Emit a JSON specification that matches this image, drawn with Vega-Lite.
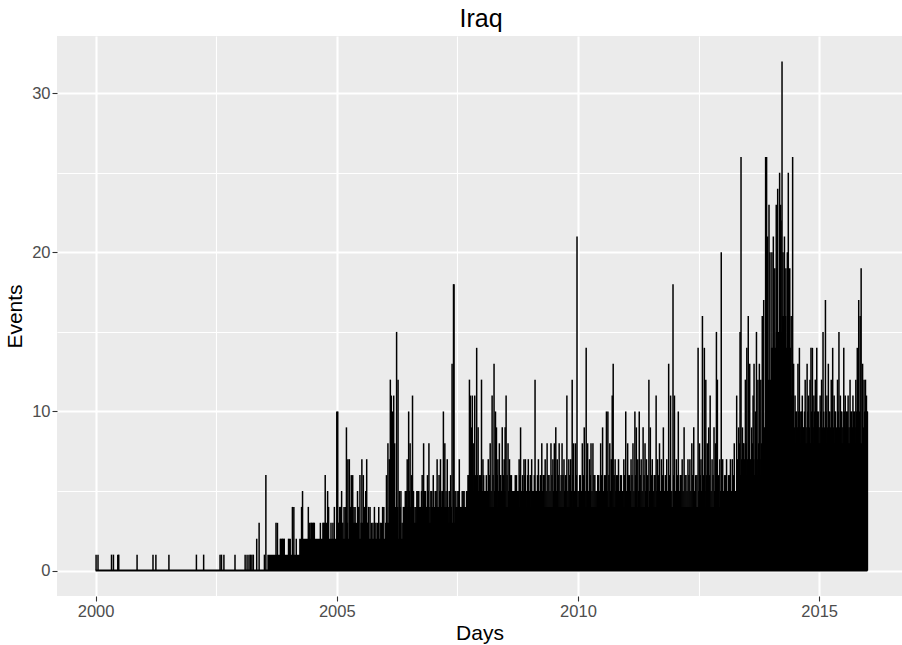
{
  "$schema": "https://vega.github.io/schema/vega-lite/v6.json",
  "width": 845,
  "height": 560,
  "autosize": {"type": "none"},
  "padding": {"left": 57, "top": 36, "right": 0, "bottom": 49},
  "background": "white",
  "view": {"fill": "#EBEBEB", "stroke": null},
  "title": {"text": "Iraq", "font": "Liberation Sans", "fontSize": 25, "fontWeight": "normal", "color": "black", "anchor": "middle", "offset": 4, "dx": 1.5},
  "datasets": {
    "base": [{"t": 2000, "t2": 2016, "v": 0}],
    "mass": [
      {"t": 2003.56, "v": 1}, {"t": 2003.83, "v": 2}, {"t": 2003.92, "v": 1}, {"t": 2004.0, "v": 2},
      {"t": 2004.05, "v": 1}, {"t": 2004.22, "v": 2}, {"t": 2004.45, "v": 3}, {"t": 2004.55, "v": 2},
      {"t": 2004.7, "v": 3}, {"t": 2004.8, "v": 2}, {"t": 2005.0, "v": 3}, {"t": 2005.12, "v": 2},
      {"t": 2005.25, "v": 3}, {"t": 2005.4, "v": 2}, {"t": 2005.5, "v": 3}, {"t": 2005.65, "v": 2},
      {"t": 2006.0, "v": 3}, {"t": 2006.08, "v": 4}, {"t": 2006.28, "v": 2}, {"t": 2006.45, "v": 3},
      {"t": 2006.65, "v": 4}, {"t": 2006.8, "v": 3}, {"t": 2006.95, "v": 4}, {"t": 2007.3, "v": 3},
      {"t": 2007.45, "v": 4}, {"t": 2007.7, "v": 5}, {"t": 2008.1, "v": 4}, {"t": 2013.29, "v": 6},
      {"t": 2013.84, "v": 9}, {"t": 2013.92, "v": 12}, {"t": 2014.0, "v": 14}, {"t": 2014.1, "v": 15},
      {"t": 2014.22, "v": 16}, {"t": 2014.32, "v": 14}, {"t": 2014.42, "v": 11}, {"t": 2014.47, "v": 8},
      {"t": 2016.0, "v": 8}
    ],
    "spikes": [
      {"t": 2000.01, "v": 1}, {"t": 2000.05, "v": 1}, {"t": 2000.33, "v": 1}, {"t": 2000.37, "v": 1},
      {"t": 2000.46, "v": 1}, {"t": 2000.48, "v": 1}, {"t": 2000.86, "v": 1}, {"t": 2001.19, "v": 1},
      {"t": 2001.25, "v": 1}, {"t": 2001.52, "v": 1}, {"t": 2002.09, "v": 1}, {"t": 2002.24, "v": 1},
      {"t": 2002.58, "v": 1}, {"t": 2002.61, "v": 1}, {"t": 2002.66, "v": 1}, {"t": 2002.89, "v": 1},
      {"t": 2003.1, "v": 1}, {"t": 2003.14, "v": 1}, {"t": 2003.18, "v": 1}, {"t": 2003.21, "v": 1},
      {"t": 2003.24, "v": 1}, {"t": 2003.27, "v": 1}, {"t": 2003.34, "v": 2}, {"t": 2003.39, "v": 3},
      {"t": 2003.5, "v": 1}, {"t": 2003.53, "v": 6}, {"t": 2003.74, "v": 3}, {"t": 2003.77, "v": 3},
      {"t": 2003.83, "v": 2}, {"t": 2003.87, "v": 2}, {"t": 2003.91, "v": 2}, {"t": 2004.0, "v": 2},
      {"t": 2004.08, "v": 4}, {"t": 2004.11, "v": 4}, {"t": 2004.16, "v": 2}, {"t": 2004.27, "v": 4},
      {"t": 2004.29, "v": 5}, {"t": 2004.41, "v": 4}, {"t": 2004.44, "v": 3}, {"t": 2004.48, "v": 3},
      {"t": 2004.52, "v": 3}, {"t": 2004.66, "v": 3}, {"t": 2004.72, "v": 3}, {"t": 2004.76, "v": 6},
      {"t": 2004.81, "v": 5}, {"t": 2004.83, "v": 4}, {"t": 2004.88, "v": 3}, {"t": 2004.92, "v": 3},
      {"t": 2004.95, "v": 4}, {"t": 2005.0, "v": 10}, {"t": 2005.02, "v": 10}, {"t": 2005.06, "v": 4},
      {"t": 2005.1, "v": 5}, {"t": 2005.15, "v": 4}, {"t": 2005.2, "v": 9}, {"t": 2005.23, "v": 7},
      {"t": 2005.26, "v": 7}, {"t": 2005.3, "v": 6}, {"t": 2005.33, "v": 6}, {"t": 2005.38, "v": 4},
      {"t": 2005.43, "v": 5}, {"t": 2005.48, "v": 6}, {"t": 2005.52, "v": 7}, {"t": 2005.55, "v": 6},
      {"t": 2005.6, "v": 5}, {"t": 2005.62, "v": 7}, {"t": 2005.66, "v": 4}, {"t": 2005.72, "v": 3},
      {"t": 2005.78, "v": 4}, {"t": 2005.84, "v": 3}, {"t": 2005.9, "v": 3}, {"t": 2005.95, "v": 4},
      {"t": 2006.03, "v": 6}, {"t": 2006.06, "v": 8}, {"t": 2006.09, "v": 7}, {"t": 2006.11, "v": 12},
      {"t": 2006.13, "v": 11}, {"t": 2006.15, "v": 10}, {"t": 2006.18, "v": 11}, {"t": 2006.2, "v": 8},
      {"t": 2006.24, "v": 15}, {"t": 2006.27, "v": 12}, {"t": 2006.3, "v": 5}, {"t": 2006.33, "v": 5},
      {"t": 2006.38, "v": 4}, {"t": 2006.42, "v": 5}, {"t": 2006.46, "v": 7}, {"t": 2006.49, "v": 10},
      {"t": 2006.52, "v": 8}, {"t": 2006.55, "v": 6}, {"t": 2006.57, "v": 11}, {"t": 2006.62, "v": 4},
      {"t": 2006.66, "v": 5}, {"t": 2006.7, "v": 5}, {"t": 2006.74, "v": 4}, {"t": 2006.77, "v": 6},
      {"t": 2006.8, "v": 8}, {"t": 2006.84, "v": 5}, {"t": 2006.88, "v": 6}, {"t": 2006.91, "v": 8},
      {"t": 2006.95, "v": 5}, {"t": 2007.0, "v": 6}, {"t": 2007.04, "v": 5}, {"t": 2007.08, "v": 7},
      {"t": 2007.12, "v": 6}, {"t": 2007.15, "v": 7}, {"t": 2007.18, "v": 5}, {"t": 2007.21, "v": 10},
      {"t": 2007.24, "v": 8}, {"t": 2007.29, "v": 7}, {"t": 2007.33, "v": 5}, {"t": 2007.36, "v": 6},
      {"t": 2007.39, "v": 13}, {"t": 2007.42, "v": 18}, {"t": 2007.43, "v": 18}, {"t": 2007.47, "v": 5},
      {"t": 2007.51, "v": 5}, {"t": 2007.54, "v": 7}, {"t": 2007.58, "v": 4}, {"t": 2007.62, "v": 5},
      {"t": 2007.66, "v": 4}, {"t": 2007.72, "v": 6}, {"t": 2007.75, "v": 12}, {"t": 2007.77, "v": 11},
      {"t": 2007.79, "v": 9}, {"t": 2007.81, "v": 11}, {"t": 2007.84, "v": 8}, {"t": 2007.86, "v": 11},
      {"t": 2007.9, "v": 14}, {"t": 2007.93, "v": 9}, {"t": 2007.96, "v": 6}, {"t": 2008.0, "v": 12},
      {"t": 2008.03, "v": 7}, {"t": 2008.06, "v": 5}, {"t": 2008.1, "v": 6}, {"t": 2008.14, "v": 7},
      {"t": 2008.18, "v": 8}, {"t": 2008.22, "v": 11}, {"t": 2008.26, "v": 13}, {"t": 2008.29, "v": 10},
      {"t": 2008.31, "v": 9}, {"t": 2008.34, "v": 7}, {"t": 2008.37, "v": 8}, {"t": 2008.4, "v": 6},
      {"t": 2008.43, "v": 9}, {"t": 2008.47, "v": 7}, {"t": 2008.49, "v": 9}, {"t": 2008.51, "v": 11},
      {"t": 2008.55, "v": 8}, {"t": 2008.58, "v": 7}, {"t": 2008.62, "v": 6}, {"t": 2008.66, "v": 5},
      {"t": 2008.7, "v": 6}, {"t": 2008.75, "v": 5}, {"t": 2008.78, "v": 7}, {"t": 2008.81, "v": 9},
      {"t": 2008.85, "v": 6}, {"t": 2008.88, "v": 7}, {"t": 2008.91, "v": 7}, {"t": 2008.94, "v": 5},
      {"t": 2008.97, "v": 7}, {"t": 2009.01, "v": 6}, {"t": 2009.04, "v": 7}, {"t": 2009.08, "v": 5},
      {"t": 2009.11, "v": 12}, {"t": 2009.14, "v": 5}, {"t": 2009.18, "v": 7}, {"t": 2009.22, "v": 6},
      {"t": 2009.25, "v": 8}, {"t": 2009.28, "v": 6}, {"t": 2009.32, "v": 7}, {"t": 2009.36, "v": 8},
      {"t": 2009.4, "v": 6}, {"t": 2009.44, "v": 8}, {"t": 2009.48, "v": 7}, {"t": 2009.51, "v": 8},
      {"t": 2009.54, "v": 9}, {"t": 2009.57, "v": 7}, {"t": 2009.61, "v": 8}, {"t": 2009.65, "v": 6},
      {"t": 2009.67, "v": 8}, {"t": 2009.71, "v": 7}, {"t": 2009.74, "v": 6}, {"t": 2009.77, "v": 11},
      {"t": 2009.81, "v": 7}, {"t": 2009.85, "v": 7}, {"t": 2009.88, "v": 12}, {"t": 2009.91, "v": 8},
      {"t": 2009.95, "v": 8}, {"t": 2009.98, "v": 21}, {"t": 2010.02, "v": 5}, {"t": 2010.05, "v": 6},
      {"t": 2010.09, "v": 8}, {"t": 2010.13, "v": 9}, {"t": 2010.17, "v": 14}, {"t": 2010.2, "v": 8},
      {"t": 2010.24, "v": 7}, {"t": 2010.27, "v": 8}, {"t": 2010.31, "v": 8}, {"t": 2010.35, "v": 6},
      {"t": 2010.39, "v": 5}, {"t": 2010.43, "v": 6}, {"t": 2010.47, "v": 8}, {"t": 2010.51, "v": 9},
      {"t": 2010.55, "v": 6}, {"t": 2010.59, "v": 10}, {"t": 2010.62, "v": 10}, {"t": 2010.66, "v": 8},
      {"t": 2010.69, "v": 7}, {"t": 2010.71, "v": 11}, {"t": 2010.73, "v": 13}, {"t": 2010.77, "v": 7},
      {"t": 2010.8, "v": 6}, {"t": 2010.84, "v": 7}, {"t": 2010.88, "v": 6}, {"t": 2010.92, "v": 5},
      {"t": 2010.95, "v": 7}, {"t": 2010.99, "v": 10}, {"t": 2011.03, "v": 8}, {"t": 2011.07, "v": 6},
      {"t": 2011.1, "v": 7}, {"t": 2011.14, "v": 8}, {"t": 2011.18, "v": 10}, {"t": 2011.21, "v": 9},
      {"t": 2011.24, "v": 7}, {"t": 2011.27, "v": 10}, {"t": 2011.31, "v": 7}, {"t": 2011.35, "v": 9},
      {"t": 2011.39, "v": 8}, {"t": 2011.42, "v": 7}, {"t": 2011.47, "v": 12}, {"t": 2011.5, "v": 9},
      {"t": 2011.54, "v": 7}, {"t": 2011.58, "v": 6}, {"t": 2011.62, "v": 11}, {"t": 2011.65, "v": 7},
      {"t": 2011.69, "v": 8}, {"t": 2011.73, "v": 7}, {"t": 2011.77, "v": 9}, {"t": 2011.81, "v": 6},
      {"t": 2011.84, "v": 7}, {"t": 2011.88, "v": 13}, {"t": 2011.92, "v": 11}, {"t": 2011.97, "v": 18},
      {"t": 2012.0, "v": 11}, {"t": 2012.04, "v": 7}, {"t": 2012.08, "v": 10}, {"t": 2012.12, "v": 6},
      {"t": 2012.16, "v": 7}, {"t": 2012.2, "v": 9}, {"t": 2012.24, "v": 6}, {"t": 2012.28, "v": 7},
      {"t": 2012.32, "v": 7}, {"t": 2012.36, "v": 8}, {"t": 2012.4, "v": 9}, {"t": 2012.44, "v": 6},
      {"t": 2012.49, "v": 14}, {"t": 2012.52, "v": 8}, {"t": 2012.55, "v": 7}, {"t": 2012.58, "v": 16},
      {"t": 2012.62, "v": 14}, {"t": 2012.65, "v": 12}, {"t": 2012.68, "v": 8}, {"t": 2012.71, "v": 9},
      {"t": 2012.74, "v": 11}, {"t": 2012.78, "v": 7}, {"t": 2012.82, "v": 9}, {"t": 2012.85, "v": 8},
      {"t": 2012.87, "v": 15}, {"t": 2012.89, "v": 12}, {"t": 2012.94, "v": 7}, {"t": 2012.97, "v": 20},
      {"t": 2013.0, "v": 7}, {"t": 2013.04, "v": 6}, {"t": 2013.08, "v": 7}, {"t": 2013.12, "v": 6},
      {"t": 2013.16, "v": 7}, {"t": 2013.2, "v": 7}, {"t": 2013.24, "v": 8}, {"t": 2013.29, "v": 11},
      {"t": 2013.33, "v": 9}, {"t": 2013.36, "v": 15}, {"t": 2013.38, "v": 26}, {"t": 2013.41, "v": 9},
      {"t": 2013.44, "v": 8}, {"t": 2013.47, "v": 12}, {"t": 2013.5, "v": 14}, {"t": 2013.53, "v": 16},
      {"t": 2013.56, "v": 13}, {"t": 2013.6, "v": 9}, {"t": 2013.63, "v": 11}, {"t": 2013.65, "v": 13},
      {"t": 2013.68, "v": 10}, {"t": 2013.7, "v": 15}, {"t": 2013.73, "v": 12}, {"t": 2013.76, "v": 13},
      {"t": 2013.79, "v": 12}, {"t": 2013.82, "v": 16}, {"t": 2013.85, "v": 17}, {"t": 2013.89, "v": 26},
      {"t": 2013.91, "v": 26}, {"t": 2013.93, "v": 21}, {"t": 2013.96, "v": 23}, {"t": 2013.98, "v": 20},
      {"t": 2014.02, "v": 20}, {"t": 2014.05, "v": 21}, {"t": 2014.08, "v": 19}, {"t": 2014.11, "v": 23},
      {"t": 2014.14, "v": 24}, {"t": 2014.18, "v": 25}, {"t": 2014.2, "v": 23}, {"t": 2014.21, "v": 22},
      {"t": 2014.23, "v": 32}, {"t": 2014.25, "v": 20}, {"t": 2014.28, "v": 21}, {"t": 2014.31, "v": 19},
      {"t": 2014.34, "v": 20}, {"t": 2014.36, "v": 25}, {"t": 2014.39, "v": 19}, {"t": 2014.42, "v": 16},
      {"t": 2014.45, "v": 26}, {"t": 2014.47, "v": 13}, {"t": 2014.5, "v": 11}, {"t": 2014.53, "v": 10},
      {"t": 2014.56, "v": 13}, {"t": 2014.59, "v": 14}, {"t": 2014.62, "v": 10}, {"t": 2014.65, "v": 11},
      {"t": 2014.68, "v": 9}, {"t": 2014.71, "v": 12}, {"t": 2014.75, "v": 13}, {"t": 2014.78, "v": 11},
      {"t": 2014.81, "v": 12}, {"t": 2014.83, "v": 14}, {"t": 2014.86, "v": 14}, {"t": 2014.89, "v": 11},
      {"t": 2014.92, "v": 12}, {"t": 2014.95, "v": 14}, {"t": 2014.98, "v": 10}, {"t": 2015.02, "v": 11},
      {"t": 2015.05, "v": 12}, {"t": 2015.08, "v": 15}, {"t": 2015.13, "v": 17}, {"t": 2015.16, "v": 11},
      {"t": 2015.19, "v": 13}, {"t": 2015.22, "v": 10}, {"t": 2015.25, "v": 12}, {"t": 2015.28, "v": 14},
      {"t": 2015.31, "v": 11}, {"t": 2015.34, "v": 10}, {"t": 2015.38, "v": 12}, {"t": 2015.41, "v": 15},
      {"t": 2015.44, "v": 11}, {"t": 2015.47, "v": 10}, {"t": 2015.51, "v": 14}, {"t": 2015.54, "v": 11},
      {"t": 2015.57, "v": 10}, {"t": 2015.6, "v": 11}, {"t": 2015.64, "v": 12}, {"t": 2015.67, "v": 10},
      {"t": 2015.7, "v": 11}, {"t": 2015.73, "v": 10}, {"t": 2015.76, "v": 12}, {"t": 2015.79, "v": 14},
      {"t": 2015.82, "v": 17}, {"t": 2015.85, "v": 16}, {"t": 2015.87, "v": 19}, {"t": 2015.9, "v": 13},
      {"t": 2015.93, "v": 12}, {"t": 2015.96, "v": 12}, {"t": 2015.98, "v": 11}, {"t": 2016.0, "v": 10},
      {"t": 2005.04, "v": 3}, {"t": 2005.08, "v": 4}, {"t": 2005.125, "v": 3}, {"t": 2005.175, "v": 4},
      {"t": 2005.215, "v": 3}, {"t": 2005.28, "v": 4}, {"t": 2005.315, "v": 3}, {"t": 2005.355, "v": 4},
      {"t": 2005.405, "v": 3}, {"t": 2005.455, "v": 4}, {"t": 2005.505, "v": 3}, {"t": 2005.575, "v": 4},
      {"t": 2005.64, "v": 3}, {"t": 2005.69, "v": 4}, {"t": 2005.75, "v": 3}, {"t": 2005.81, "v": 3},
      {"t": 2005.87, "v": 4}, {"t": 2005.925, "v": 3}, {"t": 2005.975, "v": 4},
      {"t": 2006.315, "v": 4}, {"t": 2006.355, "v": 3}, {"t": 2006.4, "v": 4}, {"t": 2006.44, "v": 5},
      {"t": 2006.475, "v": 4}, {"t": 2006.505, "v": 5}, {"t": 2006.535, "v": 4}, {"t": 2006.59, "v": 5},
      {"t": 2006.64, "v": 4}, {"t": 2006.68, "v": 5}, {"t": 2006.72, "v": 4}, {"t": 2006.755, "v": 5},
      {"t": 2006.785, "v": 4}, {"t": 2006.82, "v": 5}, {"t": 2006.86, "v": 4}, {"t": 2006.895, "v": 5},
      {"t": 2006.93, "v": 4}, {"t": 2006.97, "v": 5}, {"t": 2007.02, "v": 4}, {"t": 2007.06, "v": 5},
      {"t": 2007.1, "v": 4}, {"t": 2007.135, "v": 5}, {"t": 2007.165, "v": 4}, {"t": 2007.195, "v": 5},
      {"t": 2007.225, "v": 4}, {"t": 2007.265, "v": 5}, {"t": 2007.31, "v": 4}, {"t": 2007.345, "v": 5},
      {"t": 2007.375, "v": 4}, {"t": 2007.45, "v": 5}, {"t": 2007.49, "v": 4}, {"t": 2007.525, "v": 5},
      {"t": 2007.56, "v": 4}, {"t": 2007.6, "v": 5}, {"t": 2007.64, "v": 5}, {"t": 2007.69, "v": 5},
      {"t": 2007.735, "v": 6}, {"t": 2007.825, "v": 6}, {"t": 2007.88, "v": 6}, {"t": 2007.915, "v": 6},
      {"t": 2007.945, "v": 5}, {"t": 2007.98, "v": 6}, {"t": 2008.015, "v": 5}, {"t": 2008.045, "v": 6},
      {"t": 2008.08, "v": 5},
      {"t": 2008.12, "v": 5}, {"t": 2008.16, "v": 6}, {"t": 2008.2, "v": 5}, {"t": 2008.24, "v": 6},
      {"t": 2008.275, "v": 5}, {"t": 2008.325, "v": 6}, {"t": 2008.355, "v": 5}, {"t": 2008.385, "v": 6},
      {"t": 2008.415, "v": 5}, {"t": 2008.455, "v": 6}, {"t": 2008.485, "v": 5}, {"t": 2008.53, "v": 6},
      {"t": 2008.565, "v": 5}, {"t": 2008.6, "v": 6}, {"t": 2008.64, "v": 5}, {"t": 2008.68, "v": 5},
      {"t": 2008.725, "v": 6}, {"t": 2008.765, "v": 5}, {"t": 2008.795, "v": 6}, {"t": 2008.83, "v": 5},
      {"t": 2008.865, "v": 5}, {"t": 2008.895, "v": 6}, {"t": 2008.925, "v": 5}, {"t": 2008.955, "v": 6},
      {"t": 2008.99, "v": 5}, {"t": 2009.025, "v": 6}, {"t": 2009.06, "v": 5}, {"t": 2009.095, "v": 6},
      {"t": 2009.125, "v": 5}, {"t": 2009.16, "v": 6}, {"t": 2009.2, "v": 5}, {"t": 2009.235, "v": 6},
      {"t": 2009.265, "v": 5}, {"t": 2009.3, "v": 6}, {"t": 2009.34, "v": 5}, {"t": 2009.38, "v": 6},
      {"t": 2009.42, "v": 5}, {"t": 2009.46, "v": 6}, {"t": 2009.495, "v": 5}, {"t": 2009.525, "v": 6},
      {"t": 2009.555, "v": 5}, {"t": 2009.59, "v": 6}, {"t": 2009.63, "v": 5}, {"t": 2009.69, "v": 6},
      {"t": 2009.725, "v": 5}, {"t": 2009.755, "v": 6}, {"t": 2009.79, "v": 5}, {"t": 2009.83, "v": 6},
      {"t": 2009.865, "v": 5}, {"t": 2009.895, "v": 6}, {"t": 2009.93, "v": 5}, {"t": 2009.965, "v": 6},
      {"t": 2010.0, "v": 5}, {"t": 2010.035, "v": 6}, {"t": 2010.07, "v": 5}, {"t": 2010.11, "v": 6},
      {"t": 2010.15, "v": 5}, {"t": 2010.185, "v": 6}, {"t": 2010.22, "v": 5}, {"t": 2010.255, "v": 6},
      {"t": 2010.29, "v": 5}, {"t": 2010.33, "v": 6}, {"t": 2010.37, "v": 5}, {"t": 2010.41, "v": 6},
      {"t": 2010.45, "v": 5}, {"t": 2010.49, "v": 6}, {"t": 2010.53, "v": 5}, {"t": 2010.57, "v": 6},
      {"t": 2010.605, "v": 5}, {"t": 2010.64, "v": 6}, {"t": 2010.675, "v": 5}, {"t": 2010.75, "v": 6},
      {"t": 2010.785, "v": 5}, {"t": 2010.82, "v": 6}, {"t": 2010.86, "v": 5}, {"t": 2010.9, "v": 6},
      {"t": 2010.935, "v": 5}, {"t": 2010.97, "v": 6}, {"t": 2011.01, "v": 5}, {"t": 2011.05, "v": 6},
      {"t": 2011.085, "v": 5}, {"t": 2011.12, "v": 6}, {"t": 2011.16, "v": 5}, {"t": 2011.195, "v": 6},
      {"t": 2011.255, "v": 5}, {"t": 2011.29, "v": 6}, {"t": 2011.33, "v": 5}, {"t": 2011.37, "v": 6},
      {"t": 2011.405, "v": 5}, {"t": 2011.445, "v": 6}, {"t": 2011.485, "v": 5}, {"t": 2011.52, "v": 6},
      {"t": 2011.56, "v": 5}, {"t": 2011.6, "v": 6}, {"t": 2011.635, "v": 5}, {"t": 2011.67, "v": 6},
      {"t": 2011.71, "v": 5}, {"t": 2011.75, "v": 6}, {"t": 2011.79, "v": 5}, {"t": 2011.825, "v": 6},
      {"t": 2011.86, "v": 5}, {"t": 2011.9, "v": 6}, {"t": 2011.945, "v": 5}, {"t": 2011.985, "v": 6},
      {"t": 2012.02, "v": 5}, {"t": 2012.06, "v": 6}, {"t": 2012.1, "v": 5}, {"t": 2012.14, "v": 6},
      {"t": 2012.18, "v": 5}, {"t": 2012.22, "v": 6}, {"t": 2012.26, "v": 5}, {"t": 2012.3, "v": 6},
      {"t": 2012.34, "v": 5}, {"t": 2012.38, "v": 6}, {"t": 2012.42, "v": 5}, {"t": 2012.465, "v": 6},
      {"t": 2012.505, "v": 5}, {"t": 2012.535, "v": 6}, {"t": 2012.565, "v": 5}, {"t": 2012.6, "v": 6},
      {"t": 2012.635, "v": 5}, {"t": 2012.665, "v": 6}, {"t": 2012.695, "v": 5}, {"t": 2012.725, "v": 6},
      {"t": 2012.76, "v": 5}, {"t": 2012.8, "v": 6}, {"t": 2012.835, "v": 5}, {"t": 2012.915, "v": 6},
      {"t": 2012.955, "v": 5}, {"t": 2012.985, "v": 6}, {"t": 2013.02, "v": 5}, {"t": 2013.06, "v": 6},
      {"t": 2013.1, "v": 5}, {"t": 2013.14, "v": 6}, {"t": 2013.18, "v": 5}, {"t": 2013.22, "v": 6},
      {"t": 2013.265, "v": 5},
      {"t": 2013.305, "v": 7}, {"t": 2013.345, "v": 8}, {"t": 2013.395, "v": 7}, {"t": 2013.425, "v": 8},
      {"t": 2013.455, "v": 7}, {"t": 2013.485, "v": 8}, {"t": 2013.515, "v": 7}, {"t": 2013.545, "v": 8},
      {"t": 2013.575, "v": 7}, {"t": 2013.615, "v": 8}, {"t": 2013.645, "v": 7}, {"t": 2013.69, "v": 8},
      {"t": 2013.715, "v": 7}, {"t": 2013.745, "v": 8}, {"t": 2013.775, "v": 7}, {"t": 2013.805, "v": 8},
      {"t": 2013.835, "v": 9},
      {"t": 2014.485, "v": 9}, {"t": 2014.515, "v": 10}, {"t": 2014.545, "v": 9}, {"t": 2014.575, "v": 10},
      {"t": 2014.605, "v": 9}, {"t": 2014.635, "v": 10}, {"t": 2014.665, "v": 9}, {"t": 2014.695, "v": 10},
      {"t": 2014.73, "v": 9}, {"t": 2014.765, "v": 10}, {"t": 2014.795, "v": 9}, {"t": 2014.845, "v": 10},
      {"t": 2014.875, "v": 9}, {"t": 2014.905, "v": 10}, {"t": 2014.935, "v": 9}, {"t": 2014.965, "v": 10},
      {"t": 2015.0, "v": 9}, {"t": 2015.035, "v": 10}, {"t": 2015.065, "v": 9}, {"t": 2015.095, "v": 10},
      {"t": 2015.115, "v": 9}, {"t": 2015.145, "v": 10}, {"t": 2015.175, "v": 9}, {"t": 2015.205, "v": 10},
      {"t": 2015.235, "v": 9}, {"t": 2015.265, "v": 10}, {"t": 2015.295, "v": 9}, {"t": 2015.325, "v": 10},
      {"t": 2015.36, "v": 9}, {"t": 2015.395, "v": 10}, {"t": 2015.425, "v": 9}, {"t": 2015.455, "v": 10},
      {"t": 2015.49, "v": 9}, {"t": 2015.525, "v": 10}, {"t": 2015.555, "v": 9}, {"t": 2015.585, "v": 10},
      {"t": 2015.62, "v": 9}, {"t": 2015.655, "v": 10}, {"t": 2015.685, "v": 9}, {"t": 2015.715, "v": 10},
      {"t": 2015.745, "v": 9}, {"t": 2015.775, "v": 10}, {"t": 2015.805, "v": 9}, {"t": 2015.835, "v": 10},
      {"t": 2015.915, "v": 9}, {"t": 2015.945, "v": 10}, {"t": 2015.97, "v": 9}, {"t": 2015.99, "v": 10}
    ]
  },
  "encoding": {
    "x": {
      "field": "t", "type": "quantitative", "title": "Days",
      "scale": {"domain": [1999.2, 2016.717], "nice": false, "zero": false},
      "axis": {
        "values": [2000, 2002.5, 2005, 2007.5, 2010, 2012.5, 2015],
        "format": "d",
        "labelExpr": "datum.value % 5 === 0 ? datum.label : ''",
        "grid": true, "gridColor": "white",
        "gridWidth": {"condition": {"test": "datum.value % 5 === 0", "value": 2.1}, "value": 1.1},
        "tickOpacity": {"condition": {"test": "datum.value % 5 === 0", "value": 1}, "value": 0},
        "domain": false, "tickColor": "#333333", "tickSize": 5, "tickWidth": 1.1,
        "labelFont": "Liberation Sans", "labelFontSize": 16.5, "labelColor": "#4D4D4D", "labelPadding": 2,
        "labelFlush": false, "labelOverlap": false,
        "titleFont": "Liberation Sans", "titleFontSize": 21, "titleFontWeight": "normal", "titleColor": "black", "titlePadding": 3
      }
    },
    "y": {
      "field": "v", "type": "quantitative", "title": "Events",
      "scale": {"domain": [-1.6, 33.6], "nice": false, "zero": false},
      "axis": {
        "values": [0, 5, 10, 15, 20, 25, 30],
        "labelExpr": "datum.value % 10 === 0 ? datum.label : ''",
        "grid": true, "gridColor": "white",
        "gridWidth": {"condition": {"test": "datum.value % 10 === 0", "value": 2.1}, "value": 1.1},
        "tickOpacity": {"condition": {"test": "datum.value % 10 === 0", "value": 1}, "value": 0},
        "domain": false, "tickColor": "#333333", "tickSize": 5, "tickWidth": 1.1,
        "labelFont": "Liberation Sans", "labelFontSize": 16.5, "labelColor": "#4D4D4D", "labelPadding": 2,
        "labelFlush": false, "labelOverlap": false,
        "titleFont": "Liberation Sans", "titleFontSize": 21, "titleFontWeight": "normal", "titleColor": "black", "titlePadding": 6
      }
    }
  },
  "layer": [
    {
      "data": {"name": "mass"},
      "mark": {"type": "area", "color": "black", "interpolate": "step-after", "clip": true},
      "encoding": {"y2": {"datum": 0}}
    },
    {
      "data": {"name": "spikes"},
      "mark": {"type": "rule", "color": "black", "strokeWidth": 1.5, "clip": true},
      "encoding": {"y2": {"datum": 0}}
    },
    {
      "data": {"name": "base"},
      "mark": {"type": "rule", "color": "black", "strokeWidth": 2, "clip": true},
      "encoding": {"x2": {"field": "t2"}}
    }
  ]
}
